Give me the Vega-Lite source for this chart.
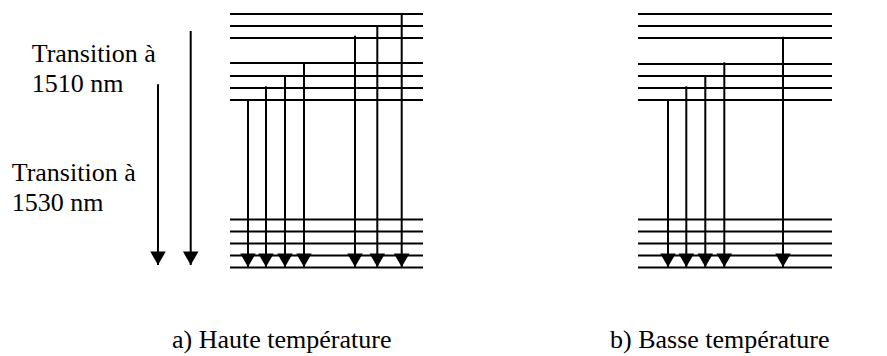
{
  "$schema": "https://vega.github.io/schema/vega-lite/v6.json",
  "width": 887,
  "height": 356,
  "padding": 0,
  "autosize": {"type": "fit", "contains": "padding"},
  "background": "white",
  "config": {"view": {"stroke": null}},
  "datasets": {
    "levels": [
      {"panel": "a", "x1": 230, "x2": 423, "e": 342},
      {"panel": "a", "x1": 230, "x2": 423, "e": 330},
      {"panel": "a", "x1": 230, "x2": 423, "e": 318},
      {"panel": "a", "x1": 230, "x2": 423, "e": 293},
      {"panel": "a", "x1": 230, "x2": 423, "e": 280},
      {"panel": "a", "x1": 230, "x2": 423, "e": 268},
      {"panel": "a", "x1": 230, "x2": 423, "e": 256},
      {"panel": "a", "x1": 230, "x2": 423, "e": 136.5},
      {"panel": "a", "x1": 230, "x2": 423, "e": 124.5},
      {"panel": "a", "x1": 230, "x2": 423, "e": 112.5},
      {"panel": "a", "x1": 230, "x2": 423, "e": 100.5},
      {"panel": "a", "x1": 230, "x2": 423, "e": 88.5},
      {"panel": "b", "x1": 638, "x2": 832, "e": 342},
      {"panel": "b", "x1": 638, "x2": 832, "e": 330},
      {"panel": "b", "x1": 638, "x2": 832, "e": 318},
      {"panel": "b", "x1": 638, "x2": 832, "e": 292},
      {"panel": "b", "x1": 638, "x2": 832, "e": 280},
      {"panel": "b", "x1": 638, "x2": 832, "e": 268},
      {"panel": "b", "x1": 638, "x2": 832, "e": 256},
      {"panel": "b", "x1": 638, "x2": 832, "e": 136.5},
      {"panel": "b", "x1": 638, "x2": 832, "e": 124.5},
      {"panel": "b", "x1": 638, "x2": 832, "e": 112.5},
      {"panel": "b", "x1": 638, "x2": 832, "e": 100.5},
      {"panel": "b", "x1": 638, "x2": 832, "e": 88.5}
    ],
    "arrows": [
      {"x": 158, "top": 271.7, "tip": 91},
      {"x": 190.7, "top": 325, "tip": 91},
      {"x": 248, "top": 256.3, "tip": 89},
      {"x": 266, "top": 269.7, "tip": 89},
      {"x": 285, "top": 279.3, "tip": 89},
      {"x": 304, "top": 293.7, "tip": 89},
      {"x": 355, "top": 320.3, "tip": 89},
      {"x": 377.3, "top": 331, "tip": 89},
      {"x": 401.7, "top": 341, "tip": 89},
      {"x": 668, "top": 256.7, "tip": 89},
      {"x": 686.3, "top": 269.7, "tip": 89},
      {"x": 705.3, "top": 280.7, "tip": 89},
      {"x": 724.3, "top": 293.7, "tip": 89},
      {"x": 783, "top": 319.3, "tip": 89}
    ],
    "labels": [
      {"x": 31.7, "e": 294, "text": "Transition à"},
      {"x": 31.7, "e": 264, "text": "1510 nm"},
      {"x": 11.7, "e": 175, "text": "Transition à"},
      {"x": 11.7, "e": 145, "text": "1530 nm"},
      {"x": 172, "e": 8, "text": "a) Haute température"},
      {"x": 610, "e": 8, "text": "b) Basse température"}
    ]
  },
  "layer": [
    {
      "data": {"name": "levels"},
      "mark": {"type": "rule", "color": "black", "strokeWidth": 2},
      "encoding": {
        "x": {"field": "x1", "type": "quantitative", "scale": {"domain": [0, 887], "nice": false, "zero": false}, "axis": null},
        "x2": {"field": "x2"},
        "y": {"field": "e", "type": "quantitative", "scale": {"domain": [0, 356], "nice": false, "zero": false}, "axis": null}
      }
    },
    {
      "data": {"name": "arrows"},
      "mark": {"type": "rule", "color": "black", "strokeWidth": 2},
      "encoding": {
        "x": {"field": "x", "type": "quantitative", "scale": {"domain": [0, 887], "nice": false, "zero": false}, "axis": null},
        "y": {"field": "top", "type": "quantitative", "scale": {"domain": [0, 356], "nice": false, "zero": false}, "axis": null},
        "y2": {"field": "tip"}
      }
    },
    {
      "data": {"name": "arrows"},
      "mark": {"type": "point", "shape": "triangle-down", "filled": true, "color": "black", "opacity": 1, "size": 240, "yOffset": -6.7},
      "encoding": {
        "x": {"field": "x", "type": "quantitative", "scale": {"domain": [0, 887], "nice": false, "zero": false}, "axis": null},
        "y": {"field": "tip", "type": "quantitative", "scale": {"domain": [0, 356], "nice": false, "zero": false}, "axis": null}
      }
    },
    {
      "data": {"name": "labels"},
      "mark": {"type": "text", "font": "'Liberation Serif', 'DejaVu Serif', serif", "fontSize": 26, "align": "left", "baseline": "alphabetic", "color": "black"},
      "encoding": {
        "x": {"field": "x", "type": "quantitative", "scale": {"domain": [0, 887], "nice": false, "zero": false}, "axis": null},
        "y": {"field": "e", "type": "quantitative", "scale": {"domain": [0, 356], "nice": false, "zero": false}, "axis": null},
        "text": {"field": "text"}
      }
    }
  ]
}
